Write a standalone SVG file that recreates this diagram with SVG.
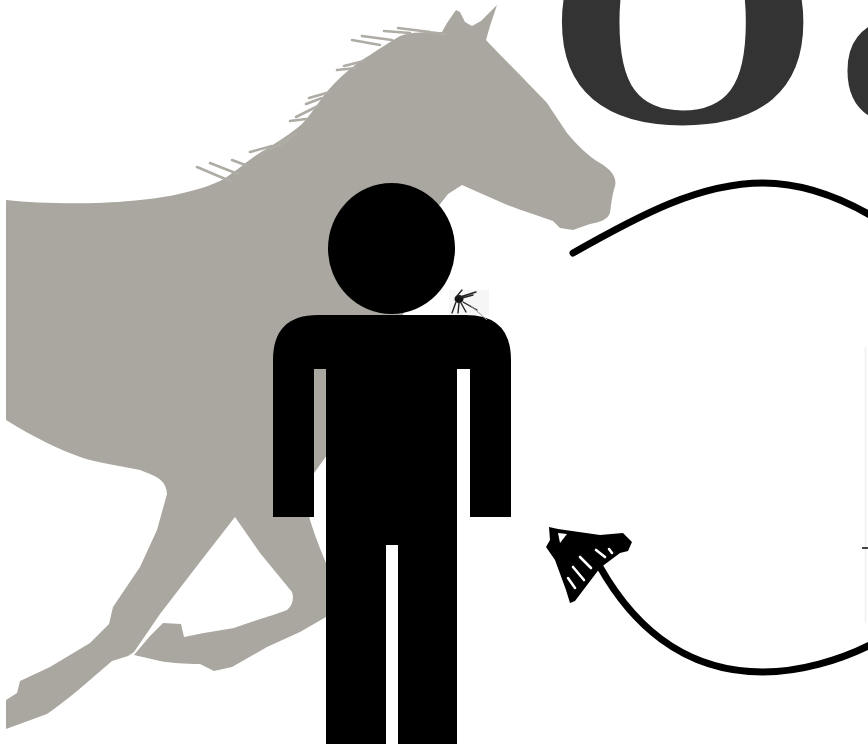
<svg xmlns="http://www.w3.org/2000/svg" width="868" height="749" viewBox="0 0 868 749">
  <style>
    .horse { fill: #a9a79f; }
    .mane { fill: none; stroke: #aeaca4; stroke-width: 2.6; stroke-linecap: round; }
    .figure { fill: #000; }
    .title { font-family: "Liberation Serif", "DejaVu Serif", serif; font-weight: bold; fill: #333333; }
    .arc { fill: none; stroke: #000; stroke-width: 7; stroke-linecap: round; }
    .hatch { fill: none; stroke: #fff; stroke-width: 2.6; stroke-linecap: round; }
  </style>
  <defs>
    <filter id="soft" x="-10%" y="-10%" width="120%" height="120%">
      <feGaussianBlur stdDeviation="0.7"/>
    </filter>
  </defs>
  <rect width="868" height="749" fill="#fff"/>

  <!-- galloping horse silhouette -->
  <g id="horse">
    <path class="horse" d="M6,200 C60,206 140,204 183,193
      C200,189 212,185 222,180 C235,172 245,163 255,156 C272,145 290,135 302,124
      C315,110 322,96 332,86 C345,72 358,62 370,55 C380,48 390,42 400,36
      C412,31 428,33 442,32
      L447,23 L456,10 L460,12 L465,22 L472,26 L481,21 L497,5 L490,26 L486,40
      C500,55 530,85 547,103 L567,133 C578,146 588,156 600,163 C612,170 617,178 615,186
      C612,195 611,205 610,213 C607,220 600,222 590,224 L573,230 L560,228 L553,221
      C540,216 520,210 505,204 L480,193 L462,185 L448,194
      L420,230 L400,330 L340,420 C335,440 330,452 322,462 L312,476 L306,500 L310,520
      C316,540 324,558 332,578 L334,612 L326,617
      L300,632 L267,647 L232,667 L214,671 L200,664 C185,664 170,663 160,661 L134,655
      L150,636 L163,623 L181,624 L184,637 L204,633 L234,628 C255,620 275,615 287,610
      C293,605 294,598 292,592 L260,553 L235,517
      L200,562 L160,614 L134,652 L128,656 L112,661 C90,680 65,702 47,714 L6,729
      L6,700 L17,693 L20,681 L50,667 L90,643 L109,624 L113,607 L140,567 L157,530 L167,494
      C166,485 163,479 150,474 L140,470 C120,466 95,462 83,458 C60,450 35,438 6,420 Z"/>
    <!-- loose hairs of the mane -->
    <path class="mane" filter="url(#soft)" d="M197,167 L230,181 M210,163 L238,174 M232,160 L248,166
      M250,152 L272,146 M262,153 L288,141 M280,143 L296,134
      M290,121 L306,119 M296,117 L318,106 M306,104 L322,98 M309,98 L330,92
      M337,70 L356,68 M344,66 L364,61 M352,40 L380,45 M362,36 L392,40
      M384,31 L410,33 M398,28 L430,32 M420,31 L445,34"/>
  </g>

  <!-- large lettering, cut by the top edge -->
  <g id="title">
    <text class="title" transform="translate(544.6,122.4) scale(1.16,1)" x="0" y="0" font-size="306">O<tspan x="248" font-size="407">a</tspan></text>
  </g>

  <!-- person pictogram -->
  <g id="person">
    <ellipse class="figure" cx="391.5" cy="248.5" rx="63.5" ry="65.5"/>
    <path class="figure" d="M273,517 L273,360 Q273,315 318,315 L466,315 Q511,315 511,360 L511,517 L470,517 L470,369 L457,369
      L457,744 L398,744 L398,545 L386,545 L386,744 L326,744 L326,369 L314,369 L314,517 Z"/>
  </g>

  <!-- mosquito on the shoulder -->
  <g id="mosquito">
    <rect x="449" y="290" width="40" height="25" fill="#f6f6f6"/>
    <ellipse cx="459" cy="299" rx="4.5" ry="4" fill="#111"/>
    <g stroke="#222" stroke-width="1.4" fill="none" stroke-linecap="round">
      <path d="M460,297 L476,292 M462,298 L473,295 M457,296 L462,290"/>
      <path d="M463,302 L477,310 M461,303 L466,312 M456,302 L452,313 M459,303 L458,313"/>
    </g>
    <path d="M470,305 L487,320" stroke="#999" stroke-width="1" fill="none"/>
  </g>

  <!-- faint edge of a clipped panel at the right border -->
  <g id="edge">
    <line x1="865.5" y1="347" x2="865.5" y2="623" stroke="#f0f0f0" stroke-width="1.5"/>
    <line x1="862" y1="548" x2="868" y2="548" stroke="#444" stroke-width="2"/>
  </g>

  <!-- connectors: hand-drawn cycle arrows -->
  <g id="connectors">
    <path class="arc" d="M573,253 C640,215 700,183 763,183 C800,183 835,195 870,215"/>
    <path class="arc" d="M600,567 C630,620 680,672 763,672 C800,672 840,660 870,645"/>
    <path d="M549,527 L558,529 L600,535 L623,533 L632,542 L628,551 L620,553 L600,568 L575,601 L570,603 L566,590 L555,560 L546,547 L550,540 Z" fill="#000"/>
    <path d="M558,533 L567,534 L560,543 Z" fill="#fff"/>
    <path class="hatch" d="M580,557 L591,568 M573,567 L584,580 M568,578 L575,588 M596,550 L605,557 M609,549 L612,553"/>
  </g>
</svg>
